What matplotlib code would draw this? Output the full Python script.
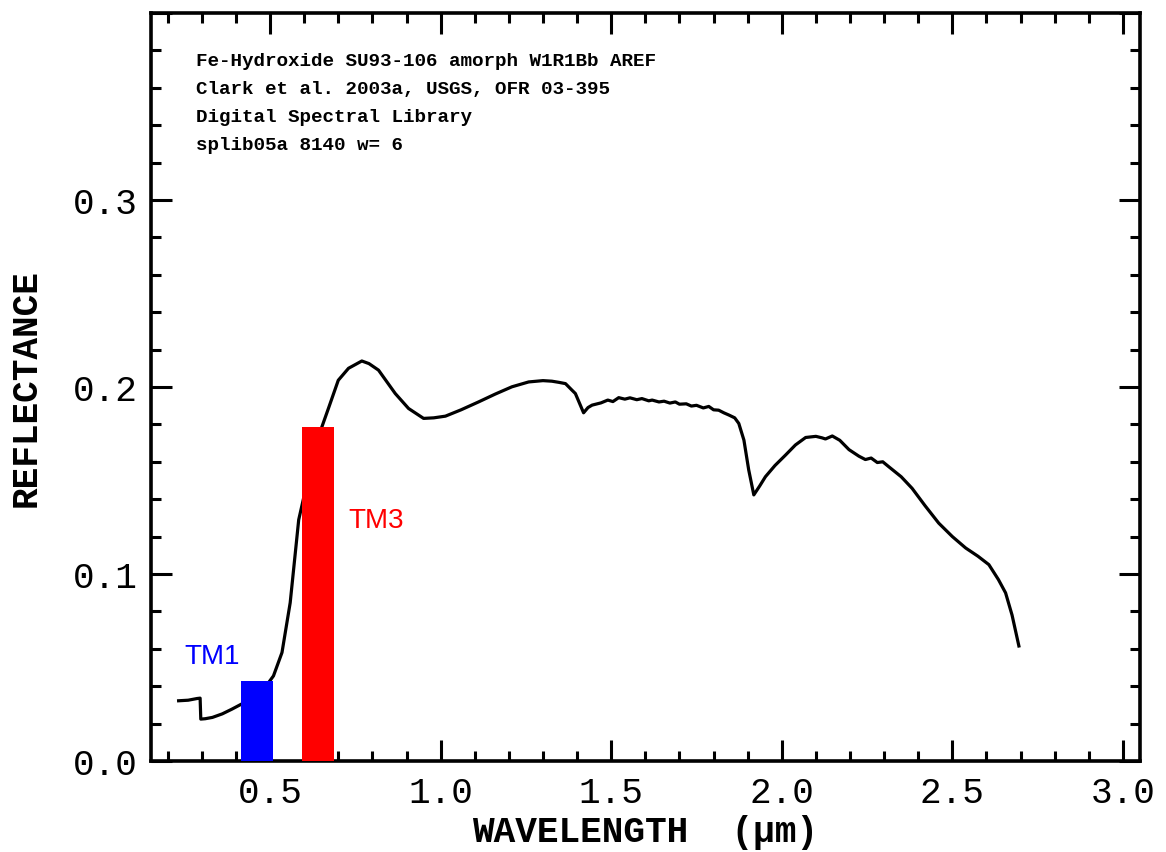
import matplotlib
matplotlib.use("Agg")
import matplotlib.pyplot as plt
from matplotlib.ticker import MultipleLocator

# spectrum (wavelength in um, reflectance)
wavelength = [0.232, 0.26, 0.286, 0.295, 0.297, 0.31, 0.331, 0.36, 0.388, 0.416,
              0.45, 0.48, 0.51, 0.535, 0.559, 0.584, 0.61, 0.63, 0.652, 0.672,
              0.70, 0.73, 0.769, 0.79, 0.818, 0.867, 0.906, 0.95, 0.98, 1.014,
              1.06, 1.111, 1.16, 1.209, 1.258, 1.30, 1.326, 1.346, 1.366, 1.385,
              1.395, 1.419, 1.432, 1.444, 1.47, 1.49, 1.505, 1.522, 1.54, 1.555,
              1.575, 1.59, 1.61, 1.62, 1.64, 1.655, 1.672, 1.688, 1.70, 1.72,
              1.735, 1.75, 1.77, 1.786, 1.80, 1.815, 1.83, 1.845, 1.862, 1.874,
              1.889, 1.903, 1.918, 1.935, 1.952, 1.98, 2.011, 2.04, 2.07, 2.10,
              2.118, 2.128, 2.148, 2.17, 2.197, 2.226, 2.245, 2.262, 2.28, 2.296,
              2.314, 2.35, 2.382, 2.42, 2.46, 2.50, 2.539, 2.575, 2.607, 2.635,
              2.656, 2.675, 2.695]
reflectance = [0.0322, 0.0325, 0.0334, 0.0336, 0.0224, 0.0226, 0.0233, 0.0252, 0.0277, 0.0304,
               0.0335, 0.038, 0.0455, 0.058, 0.0846, 0.129, 0.150, 0.166, 0.1787, 0.189,
               0.2036, 0.2100, 0.2139, 0.2125, 0.209, 0.1965, 0.1885, 0.1832, 0.1835, 0.1844,
               0.1878, 0.192, 0.1962, 0.2001, 0.2027, 0.2034, 0.2031, 0.2025, 0.2018, 0.1983,
               0.1965, 0.1862, 0.1890, 0.1903, 0.1915, 0.1930, 0.1922, 0.1943, 0.1935, 0.1942,
               0.1932, 0.1938, 0.1926, 0.1930, 0.1920, 0.1924, 0.1914, 0.1920, 0.1908, 0.1910,
               0.1898, 0.1902, 0.1888, 0.1896, 0.1878, 0.1876, 0.1862, 0.1850, 0.1835, 0.1805,
               0.1716, 0.1557, 0.1423, 0.1470, 0.1520, 0.1580, 0.1636, 0.1690, 0.1730, 0.1736,
               0.1728, 0.1722, 0.1738, 0.1715, 0.1665, 0.1630, 0.1612, 0.1620, 0.1596, 0.1600,
               0.1573, 0.1520, 0.1458, 0.1365, 0.1272, 0.1200, 0.1139, 0.1095, 0.1050, 0.0970,
               0.0899, 0.0780, 0.0615]

# Landsat TM bands as drawn
band_names = ["TM1", "TM3"]
band_start = [0.416, 0.593]
band_width = [0.093, 0.093]
band_top = [0.0428, 0.1787]
band_colors = ["#0000ff", "#ff0000"]
band_label_xy = [(0.25, 0.056), (0.73, 0.129)]

info_lines = ["Fe-Hydroxide SU93-106 amorph W1R1Bb AREF",
              "Clark et al. 2003a, USGS, OFR 03-395",
              "Digital Spectral Library",
              "splib05a 8140 w= 6"]

mono = "Liberation Mono"

fig = plt.figure(figsize=(11.66, 8.53), dpi=100)
ax = fig.add_axes([0.1292, 0.1067, 0.8485, 0.8769])

ax.plot(wavelength, reflectance, color="black", lw=2.3, zorder=2)
ax.bar(band_start, band_top, width=band_width, align="edge",
       color=band_colors, zorder=3)
for name, (tx, ty), c in zip(band_names, band_label_xy, band_colors):
    ax.text(tx, ty, name, color=c, fontsize=20, family="Liberation Sans",
            ha="left", va="center")

for i, line in enumerate(info_lines):
    ax.text(0.0458, 0.936 - i * 0.0374, line, transform=ax.transAxes,
            family=mono, fontweight="bold", fontsize=13.9, ha="left", va="center")

ax.set_xlim(0.15, 3.05)
ax.set_ylim(0, 0.4)
ax.xaxis.set_major_locator(MultipleLocator(0.5))
ax.xaxis.set_minor_locator(MultipleLocator(0.1))
ax.yaxis.set_major_locator(MultipleLocator(0.1))
ax.yaxis.set_minor_locator(MultipleLocator(0.02))
ax.xaxis.set_major_formatter(lambda v, p: f"{v:.1f}")
ax.yaxis.set_major_formatter(lambda v, p: "" if v > 0.35 else f"{v:.1f}")

ax.tick_params(which="both", direction="in", top=True, right=True, width=2.2)
ax.tick_params(which="major", length=15, labelsize=26)
ax.tick_params(axis="x", which="major", pad=10)
ax.tick_params(axis="y", which="major", pad=9)
ax.tick_params(which="minor", length=7.5)
for lab in ax.get_xticklabels() + ax.get_yticklabels():
    lab.set_family(mono)
for sp in ax.spines.values():
    sp.set_linewidth(2.6)

ax.set_xlabel("WAVELENGTH  (\u03bcm)", family=mono, fontweight="bold",
              fontsize=26, labelpad=3)
ax.set_ylabel("REFLECTANCE", family=mono, fontweight="bold",
              fontsize=26, labelpad=21)

fig.savefig("out.png", dpi=100)
